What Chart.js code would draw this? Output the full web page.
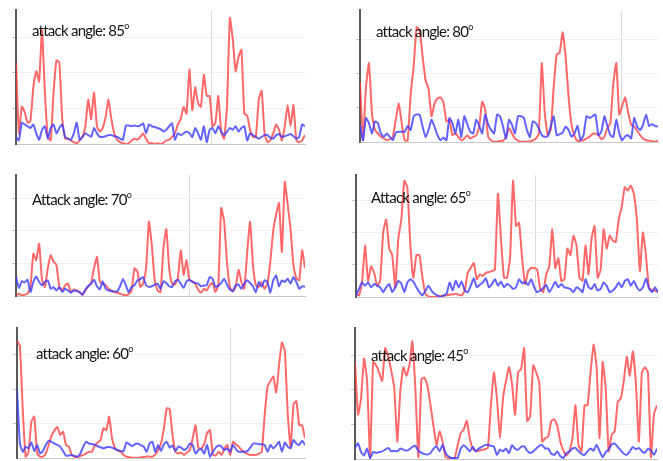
<!DOCTYPE html>
<html>
<head>
<meta charset="utf-8">
<script src="https://cdn.jsdelivr.net/npm/chart.js@4/dist/chart.umd.min.js"></script>
<style>
  html, body { margin: 0; padding: 0; background: #fff; }
  #stage { position: relative; width: 663px; height: 461px; overflow: hidden; background: #fff; }
  canvas { position: absolute; }
  .ttl { position: absolute; font-family: Lato, "Open Sans", sans-serif; font-size: 15px; line-height: 15px; letter-spacing: -0.75px; color: #141414; white-space: nowrap; z-index: 5; }
  .ttl sup { font-size: 9px; position: relative; top: -1px; letter-spacing: 0; }
</style>
</head>
<body>
<div id="stage"></div>
<script>
// ---- data (x = sample index 0..100) ----
const panelTitles = ["attack angle: 85", "attack angle: 80", "Attack angle: 70", "Attack angle: 65", "attack angle: 60", "attack angle: 45"];

const red85 = [2.3,0.3,1.05,0.9,0.6,0.65,1.6,2.05,1.75,3.2,1.45,0.2,0.1,1.45,2.35,2.3,0.7,0.15,0.15,0.1,0.05,0.02,0.1,0.2,0.5,1.25,0.7,1.45,0.5,0.35,0.45,0.75,1.25,0.7,0.3,0.12,0.05,0.02,0,0.02,0.1,0.15,0.12,0.2,0.3,0.15,0.02,0.03,0,0.02,0,0.03,0.1,0.12,0.2,0.3,0.55,0.7,1.05,0.85,2.1,0.95,1.6,1.15,1.05,1.95,1.35,1.35,0.5,0.6,1.35,0.35,0.15,1.05,3.55,2.95,2.05,2.45,2.65,0.85,0.8,0.4,0.2,0.2,1.25,1.5,0.3,0.05,0.1,0.3,0.55,0.4,0.1,0.5,1.1,0.5,1.1,0.1,0.05,0.1,0.25];
const blue85 = [0.2,0.1,0.6,0.55,0.5,0.45,0.55,0.3,0.12,0.4,0.5,0.15,0.45,0.55,0.3,0.45,0.55,0.2,0.15,0.12,0.3,0.6,0.12,0.2,0.3,0.25,0.2,0.45,0.3,0.2,0.2,0.22,0.25,0.25,0.22,0.2,0.15,0.12,0.52,0.52,0.5,0.52,0.5,0.52,0.58,0.3,0.55,0.5,0.48,0.45,0.42,0.35,0.4,0.5,0.58,0.12,0.3,0.25,0.3,0.35,0.3,0.2,0.45,0.3,0.12,0.5,0.05,0.4,0.45,0.3,0.5,0.35,0.25,0.35,0.45,0.4,0.5,0.35,0.45,0.5,0.1,0.3,0.25,0.2,0.15,0.2,0.25,0.25,0.18,0.15,0.25,0.28,0.2,0.22,0.25,0.28,0.22,0.15,0.2,0.55,0.5];

const red80 = [1.75,0.05,1.6,2.3,0.85,0.35,0.25,0.15,0.1,0.05,0.08,0.15,0.65,1.12,0.55,0.05,0.04,1.4,2.2,3.35,3.25,2.5,1.8,1.55,0.75,1.12,1.27,1.3,1.17,0.6,0.65,0.2,0.25,0.15,0.05,0.1,0.2,0.1,0.15,0.2,0.45,1.17,0.95,0.15,0.05,0.01,0.01,0.03,0.04,0.15,0.4,0.25,0.1,0.04,0.01,0.01,0.01,0.02,0.05,0.1,0.25,2.3,0.85,0.2,0.35,1.6,2.55,2.6,3.2,2.5,1.3,0.5,0.17,0.03,0.04,0.05,0.1,0.15,0.23,0.25,0.2,0.08,0.15,0.4,0.55,1.7,2.3,0.8,1.05,1.3,0.85,0.5,0.45,0.33,0.2,0.1,0.05,0.04,0.02,0.01,0.04];
const blue80 = [0.5,0.05,0.7,0.55,0.25,0.6,0.55,0.25,0.15,0.25,0.15,0.05,0.27,0.3,0.3,0.3,0.47,0.35,0.75,0.8,0.8,0.45,0.15,0.35,0.65,0.45,0.2,0.05,0.13,0.05,0.7,0.55,0.25,0.65,0.15,0.75,0.52,0.3,0.25,0.65,0.47,0.25,0.8,0.52,0.35,0.25,0.8,0.75,0.45,0.1,0.65,0.5,0.25,0.75,0.75,0.7,0.35,0.15,0.6,0.55,0.4,0.2,0.15,0.17,0.45,0.75,0.2,0.23,0.27,0.45,0.35,0.15,0.25,0.47,0.05,0.2,0.75,0.7,0.75,0.8,0.2,0.3,0.75,0.47,0.2,0.15,0.65,0.25,0.05,0.17,0.2,0.1,0.7,0.45,0.35,0.5,0.8,0.47,0.52,0.47,0.45];

const red70 = [0.02,0.07,0.02,0.04,0.07,0.28,1.3,1.1,1.6,0.5,0.28,0.85,1.25,1.05,0.95,0.28,0.18,0.33,0.38,0.12,0.2,0.17,0.12,0.04,0.17,0.3,0.4,0.85,1.2,0.45,0.37,0.33,0.22,0.17,0.12,0.1,0.07,0.04,0.02,0.06,0.17,0.85,0.75,0.28,0.38,0.85,2.28,1.55,0.48,0.17,0.12,1.45,2.05,0.85,0.38,0.35,0.55,1.4,0.65,1.1,0.48,0.45,0.38,0.2,0.1,0.22,0.17,0.33,0.4,0.12,0.33,2.7,2.3,1.05,0.28,0.14,0.28,0.8,0.43,0.22,1.35,2.28,0.95,0.33,0.28,0.43,0.22,0.38,1.05,2.0,2.5,2.85,1.35,3.5,2.8,2.05,0.95,0.55,0.48,1.4,0.85];
const blue70 = [0.6,0.25,0.45,0.42,0.5,0.12,0.43,0.6,0.43,0.33,0.43,0.48,0.22,0.27,0.17,0.27,0.12,0.22,0.17,0.1,0.17,0.15,0.12,0.04,0.2,0.3,0.38,0.5,0.3,0.2,0.45,0.22,0.17,0.15,0.14,0.14,0.3,0.52,0.33,0.12,0.28,0.33,0.48,0.52,0.58,0.33,0.28,0.3,0.35,0.38,0.22,0.45,0.4,0.3,0.28,0.45,0.5,0.38,0.25,0.45,0.5,0.43,0.4,0.38,0.3,0.32,0.33,0.58,0.53,0.28,0.32,0.4,0.53,0.35,0.2,0.15,0.33,0.35,0.22,0.38,0.48,0.4,0.3,0.12,0.43,0.28,0.48,0.43,0.1,0.48,0.63,0.3,0.48,0.43,0.53,0.38,0.58,0.43,0.22,0.3,0.28];

const red65 = [0.1,0.05,0.45,1.6,0.5,0.95,0.75,0.35,0.5,2.0,2.4,1.5,1.3,0.3,1.8,2.4,3.6,3.4,1.6,0.6,1.3,1.3,0.6,0.1,0.02,0,0,0.02,0.03,0.04,0.05,0.07,0.08,0.1,0.07,0.05,0.2,0.75,0.9,1.05,0.55,0.7,0.65,0.75,0.77,0.8,0.85,3.2,1.8,0.6,0.6,1.2,3.6,2.2,2.3,1.2,0.4,0.8,0.9,0.9,0.85,0.25,0.15,0.7,0.95,2.1,0.9,1.2,0.5,0.55,1.5,1.3,1.9,1.6,0.6,0.5,1.6,0.7,1.8,2.2,0.6,0.85,2.1,1.5,1.9,1.75,1.7,2.4,2.8,3.4,3.3,3.45,3.2,2.4,0.8,2.0,1.3,0.3,0.2,0.2,0.15];
const blue65 = [0.05,0.25,0.45,0.35,0.45,0.3,0.4,0.35,0.3,0.15,0.3,0.4,0.15,0.3,0.5,0.42,0.15,0.45,0.55,0.48,0.3,0.15,0.05,0.2,0.35,0.2,0.1,0.05,0,0.05,0.1,0.45,0.2,0.5,0.3,0.48,0.2,0.15,0.35,0.58,0.3,0.38,0.45,0.58,0.3,0.4,0.55,0.35,0.48,0.3,0.4,0.35,0.25,0.3,0.55,0.42,0.47,0.37,0.55,0.3,0.15,0.2,0.28,0.37,0.15,0.3,0.47,0.3,0.4,0.3,0.28,0.25,0.15,0.3,0.25,0.15,0.55,0.3,0.25,0.4,0.2,0.25,0.45,0.35,0.15,0.2,0.3,0.45,0.3,0.5,0.55,0.35,0.5,0.3,0.2,0.3,0.57,0.27,0.15,0.3,0.15];

const red60 = [3.4,3.25,1.4,0.04,0.18,1.05,1.2,0.13,0.04,0.04,0.13,0.38,0.65,0.8,0.9,0.67,0.76,0.38,0.33,0.09,0.04,0.01,0.06,0.09,0.13,0.18,0.18,0.36,0.45,0.52,0.86,0.81,1.2,0.57,0.3,0.21,0.18,0.09,0.04,0.02,0.01,0.01,0.01,0.02,0.03,0.04,0.04,0.04,0.1,0.23,0.42,0.86,1.44,1.42,0.67,0.18,0.13,0.16,0.09,0.16,0.23,0.57,0.95,0.28,0.28,0.4,0.72,0.81,0.1,0.07,0.18,0.09,0.26,0.38,0.09,0.47,0.4,0.33,0.23,0.16,0.12,0.09,0.09,0.09,0.13,0.18,1.25,2.07,2.23,2.36,1.9,2.7,3.35,3.1,1.3,0.3,1.55,1.65,0.95,0.95,0.57];
const blue60 = [2.0,0.42,0.18,0.33,0.28,0.45,0.2,0.38,0.13,0.2,0.38,0.5,0.47,0.42,0.38,0.33,0.2,0.07,0.07,0.09,0.06,0.04,0.13,0.33,0.47,0.42,0.4,0.38,0.34,0.31,0.28,0.31,0.32,0.3,0.26,0.23,0.2,0.2,0.45,0.4,0.34,0.4,0.42,0.37,0.33,0.18,0.42,0.47,0.18,0.38,0.2,0.4,0.47,0.3,0.36,0.2,0.33,0.3,0.23,0.28,0.42,0.38,0.13,0.23,0.26,0.13,0.38,0.04,0.18,0.3,0.36,0.33,0.23,0.28,0.18,0.38,0.26,0.18,0.18,0.18,0.2,0.3,0.42,0.42,0.4,0.4,0.38,0.18,0.38,0.28,0.36,0.47,0.18,0.45,0.33,0.28,0.52,0.42,0.38,0.5,0.38];

const red45 = [2.8,1.28,1.75,2.9,2.25,0.03,2.8,2.7,2.5,2.25,3.2,2.95,2.55,2.05,0.5,1.95,2.65,2.4,2.7,3.4,2.0,0.05,2.3,2.35,2.1,1.55,0.95,0.4,0.8,0.5,0.05,0.03,0.03,0.03,0.4,0.75,0.85,1.1,0.6,0.3,0.22,0.24,0.26,0.28,0.32,1.55,2.5,1.75,0.6,1.75,2.25,2.65,2.15,1.28,2.5,2.6,3.2,1.1,1.23,2.7,2.5,2.2,0.5,0.6,0.65,1.1,1.15,0.95,0.5,0.24,0.1,0.22,0.6,1.55,0.4,0.22,1.55,1.55,2.5,3.3,2.65,0.6,2.8,2.05,0.22,0.7,0.8,1.65,1.75,2.25,2.95,2.4,3.1,2.2,0.5,2.5,2.65,2.5,0.05,1.3,1.55];
const blue45 = [0.32,0.45,0.2,0.1,0.3,0.03,0.2,0.18,0.2,0.22,0.27,0.32,0.22,0.24,0.22,0.3,0.27,0.24,0.28,0.35,0.38,0.23,0.18,0.14,0.13,0.17,0.3,0.37,0.22,0.41,0.17,0.07,0.03,0.03,0.03,0.3,0.4,0.32,0.22,0.35,0.22,0.3,0.35,0.4,0.41,0.38,0.36,0.12,0.27,0.22,0.3,0.17,0.4,0.3,0.27,0.35,0.37,0.24,0.17,0.22,0.3,0.38,0.4,0.3,0.3,0.15,0.12,0.22,0.08,0.03,0.17,0.22,0.3,0.32,0.22,0.15,0.12,0.22,0.3,0.24,0.41,0.22,0.05,0.2,0.28,0.42,0.45,0.35,0.25,0.15,0.12,0.22,0.35,0.28,0.32,0.22,0.18,0.3,0.25,0.12,0.3];

// x position (in sample units) of the single vertical grid line in each panel
const midTickX = [67.8, 87.6, 60, 59.3, 74.3, null];

// ---- layout ----
const panels = [
  { title: panelTitles[0], red: red85, blue: blue85, mid: midTickX[0], L: 16,  R: 305, T: 10,  B: 144, yMax: 3.77, tx: 32,  ty: 19 },
  { title: panelTitles[1], red: red80, blue: blue80, mid: midTickX[1], L: 360, R: 658, T: 10,  B: 142, yMax: 3.85, tx: 376, ty: 20 },
  { title: panelTitles[2], red: red70, blue: blue70, mid: midTickX[2], L: 16,  R: 305, T: 175, B: 296, yMax: 3.71, tx: 32,  ty: 188 },
  { title: panelTitles[3], red: red65, blue: blue65, mid: midTickX[3], L: 356, R: 658, T: 175, B: 297, yMax: 3.78, tx: 371, ty: 186 },
  { title: panelTitles[4], red: red60, blue: blue60, mid: midTickX[4], L: 17,  R: 305, T: 328, B: 458, yMax: 3.77, tx: 36,  ty: 342 },
  { title: panelTitles[5], red: red45, blue: blue45, mid: midTickX[5], L: 355, R: 657, T: 328, B: 459, yMax: 3.78, tx: 371, ty: 344 }
];

const stage = document.getElementById('stage');
const AXW = 6, AXH = 3, PADT = 2, PADR = 2;

panels.forEach((p, k) => {
  const cv = document.createElement('canvas');
  const w = (p.R - p.L) + AXW + PADR;
  const h = (p.B - p.T) + PADT + AXH;
  cv.width = w; cv.height = h;
  cv.style.left = (p.L - AXW) + 'px';
  cv.style.top = (p.T - PADT) + 'px';
  cv.style.width = w + 'px'; cv.style.height = h + 'px';
  stage.appendChild(cv);

  const t = document.createElement('div');
  t.className = 'ttl';
  t.style.left = p.tx + 'px';
  t.style.top = p.ty + 'px';
  t.innerHTML = p.title + '<sup>o</sup>';
  stage.appendChild(t);

  const toPts = arr => arr.map((v, i) => ({ x: i, y: v }));

  new Chart(cv, {
    type: 'line',
    data: {
      datasets: [
        { label: 'blue', data: toPts(p.blue), borderColor: 'rgba(60,60,255,0.8)', borderWidth: 2, pointRadius: 0, tension: 0.15 },
        { label: 'red', data: toPts(p.red), borderColor: 'rgba(255,55,55,0.75)', borderWidth: 2, pointRadius: 0, tension: 0.15 }
      ]
    },
    options: {
      responsive: false,
      animation: false,
      devicePixelRatio: 1,
      layout: { padding: { top: PADT, right: PADR, left: 0, bottom: 0 } },
      plugins: { legend: { display: false }, tooltip: { enabled: false }, title: { display: false } },
      scales: {
        x: {
          type: 'linear', min: 0, max: 100,
          afterBuildTicks: s => { s.ticks = p.mid == null ? [] : [{ value: p.mid }]; },
          afterFit: s => { s.height = AXH; },
          ticks: { display: false },
          grid: { color: '#dcdcdc', lineWidth: 1, drawTicks: false },
          border: { display: true, color: '#c8c8c8', width: 1 }
        },
        y: {
          min: 0, max: p.yMax,
          afterBuildTicks: s => { s.ticks = [1, 2, 3].map(v => ({ value: v })); },
          afterFit: s => { s.width = AXW; },
          ticks: { display: false },
          grid: { color: '#f1f1f1', lineWidth: 1, drawTicks: true, tickLength: 4, tickColor: '#c4c4c4' },
          border: { display: true, color: '#5a5a5a', width: 2 }
        }
      }
    }
  });
});
</script>
</body>
</html>
